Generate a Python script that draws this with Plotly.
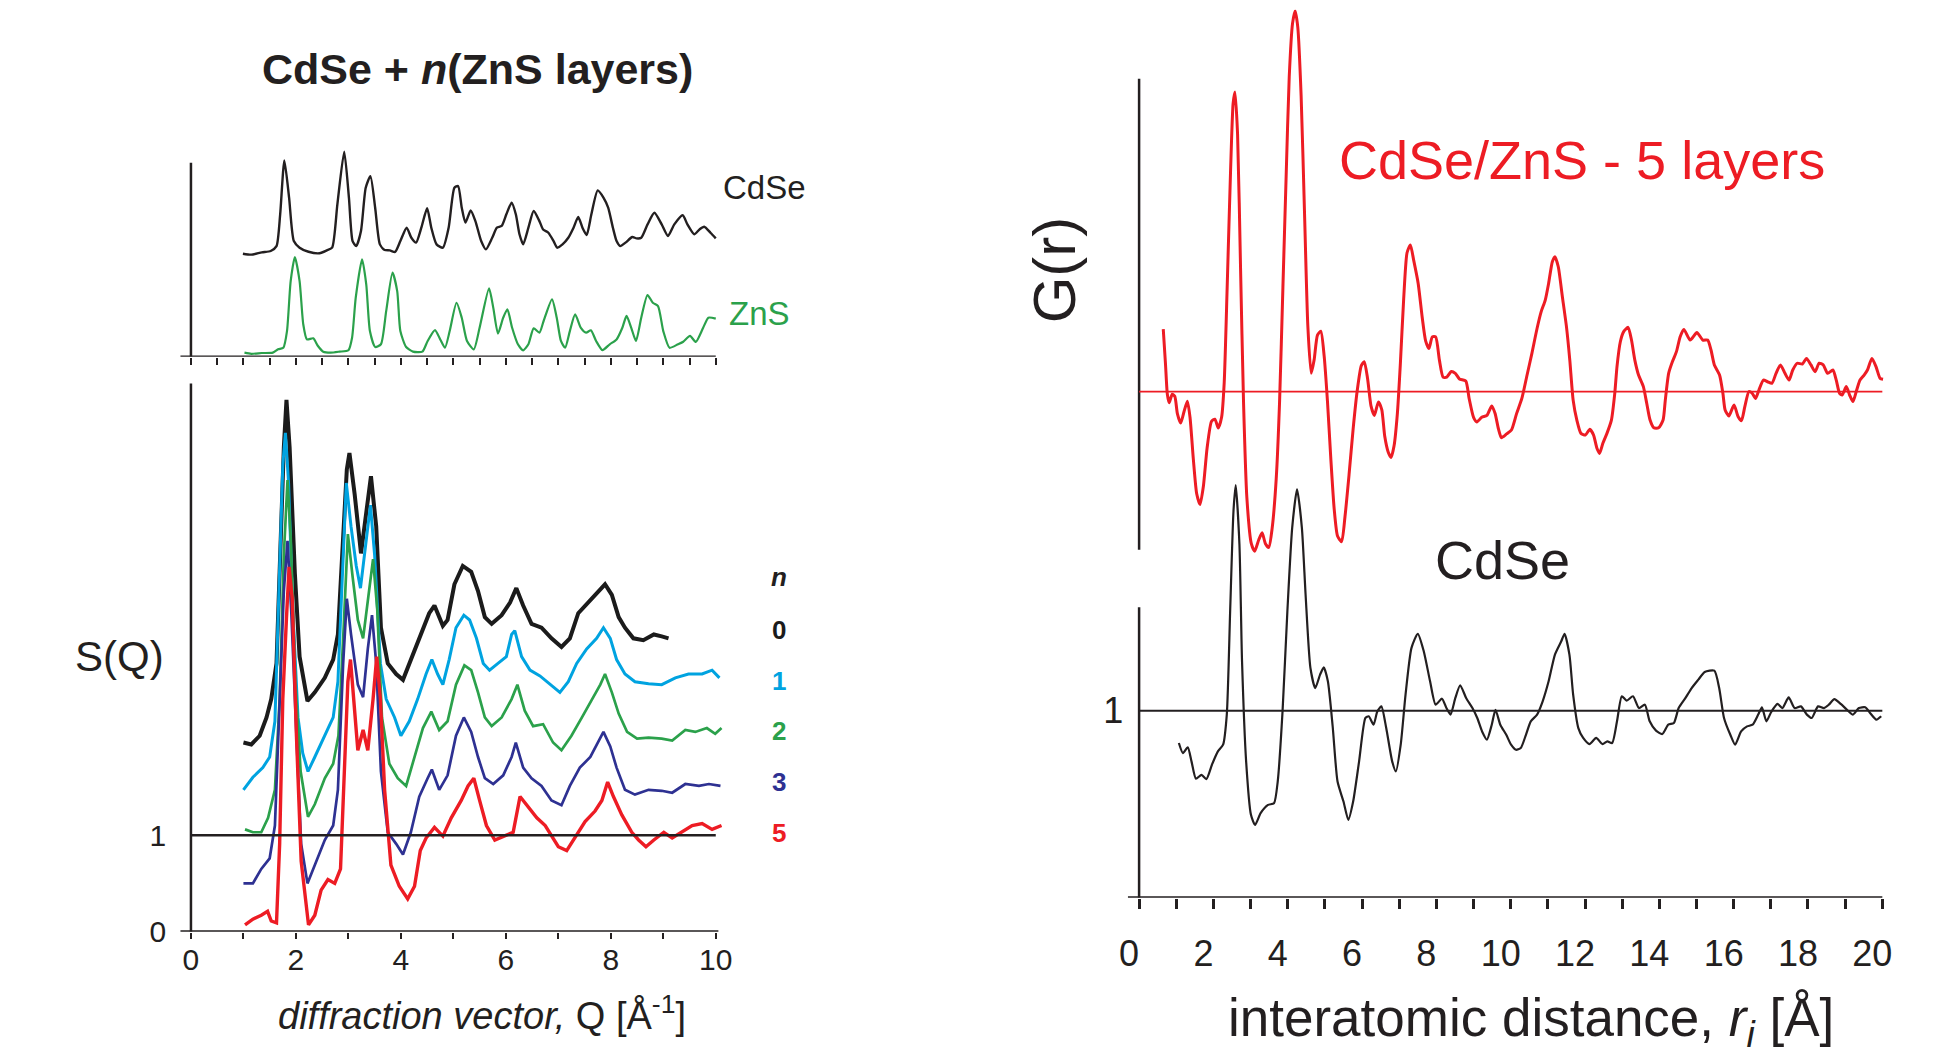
import plotly.graph_objects as go

# ---------------- data ----------------
# upper-left panel: reference patterns (arbitrary intensity units)
CDSE_REF = [(0.99,0.531),(1.15,0.526),(1.35,0.538),(1.52,0.545),(1.63,0.570),(1.70,0.734),(1.78,1.012),(1.87,0.820),
            (1.96,0.596),(2.07,0.562),(2.24,0.541),(2.45,0.533),(2.59,0.548),(2.69,0.562),(2.79,0.785),(2.92,1.057),
            (3.01,0.820),(3.08,0.596),(3.15,0.570),(3.24,0.648),(3.33,0.871),(3.42,0.931),(3.51,0.768),(3.60,0.579),
            (3.69,0.550),(3.79,0.548),(3.89,0.540),(3.99,0.596),(4.11,0.665),(4.20,0.613),(4.29,0.588),(4.39,0.665),
            (4.50,0.765),(4.58,0.665),(4.68,0.579),(4.80,0.562),(4.91,0.665),(5.02,0.871),(5.09,0.880),(5.16,0.768),
            (5.23,0.691),(5.33,0.754),(5.42,0.699),(5.53,0.596),(5.62,0.553),(5.74,0.613),(5.83,0.665),(5.92,0.674),
            (6.01,0.734),(6.11,0.794),(6.19,0.734),(6.26,0.631),(6.33,0.579),(6.43,0.665),(6.53,0.751),(6.64,0.699),
            (6.71,0.656),(6.81,0.639),(6.91,0.596),(6.98,0.562),(7.08,0.579),(7.19,0.613),(7.29,0.665),(7.38,0.720),
            (7.46,0.665),(7.54,0.627),(7.63,0.734),(7.75,0.857),(7.86,0.820),(7.95,0.768),(8.04,0.665),(8.11,0.596),
            (8.18,0.570),(8.28,0.588),(8.41,0.617),(8.49,0.610),(8.58,0.613),(8.70,0.682),(8.83,0.742),(8.97,0.682),
            (9.09,0.622),(9.21,0.682),(9.37,0.729),(9.46,0.682),(9.59,0.631),(9.69,0.656),(9.78,0.670),(9.90,0.639),
            (10.00,0.610)]
ZNS_REF = [(1.02,0.021),(1.15,0.015),(1.35,0.019),(1.56,0.021),(1.66,0.038),(1.76,0.046),(1.83,0.132),(1.90,0.390),
           (1.98,0.514),(2.07,0.390),(2.14,0.167),(2.21,0.089),(2.33,0.095),(2.42,0.055),(2.52,0.026),(2.66,0.021),
           (2.83,0.026),(3.00,0.033),(3.07,0.098),(3.14,0.304),(3.26,0.502),(3.34,0.373),(3.41,0.132),(3.51,0.050),
           (3.62,0.064),(3.72,0.235),(3.84,0.433),(3.93,0.338),(3.99,0.132),(4.10,0.050),(4.23,0.026),(4.41,0.026),
           (4.51,0.081),(4.65,0.137),(4.75,0.089),(4.84,0.046),(4.93,0.132),(5.06,0.278),(5.16,0.201),(5.26,0.081),
           (5.39,0.038),(5.50,0.149),(5.68,0.352),(5.76,0.253),(5.85,0.119),(5.95,0.201),(6.03,0.244),(6.12,0.149),
           (6.23,0.064),(6.33,0.033),(6.43,0.064),(6.53,0.146),(6.64,0.124),(6.72,0.184),(6.88,0.296),(6.97,0.201),
           (7.05,0.081),(7.13,0.046),(7.22,0.132),(7.32,0.218),(7.43,0.149),(7.53,0.124),(7.62,0.136),(7.72,0.081),
           (7.84,0.034),(7.98,0.064),(8.11,0.089),(8.22,0.149),(8.30,0.210),(8.39,0.149),(8.48,0.081),(8.58,0.201),
           (8.70,0.318),(8.80,0.278),(8.90,0.261),(9.00,0.132),(9.12,0.046),(9.28,0.064),(9.38,0.077),(9.51,0.107),
           (9.62,0.076),(9.76,0.149),(9.86,0.201),(10.00,0.196)]

# lower-left panel: S(Q) of CdSe + n ZnS layers (curves shifted as drawn)
SQ_N0 = [(1.00,1.96),(1.15,1.94),(1.31,2.03),(1.44,2.22),(1.53,2.41),(1.63,2.78),(1.70,3.90),(1.77,5.02),(1.82,5.51),
         (1.88,5.02),(1.98,3.71),(2.07,2.85),(2.22,2.39),(2.36,2.48),(2.55,2.63),(2.71,2.82),(2.80,3.08),(2.90,4.09),
         (2.97,4.79),(3.02,4.96),(3.12,4.53),(3.24,3.92),(3.34,4.35),(3.43,4.72),(3.53,4.20),(3.62,3.15),(3.75,2.78),
         (3.91,2.67),(4.04,2.61),(4.19,2.82),(4.39,3.08),(4.54,3.30),(4.64,3.38),(4.80,3.17),(4.89,3.23),(5.02,3.60),
         (5.18,3.79),(5.34,3.73),(5.47,3.53),(5.60,3.26),(5.73,3.19),(5.92,3.28),(6.08,3.41),(6.20,3.56),(6.33,3.38),
         (6.49,3.19),(6.68,3.15),(6.87,3.04),(7.06,2.95),(7.22,3.04),(7.38,3.30),(7.57,3.41),(7.76,3.53),(7.89,3.60),
         (8.02,3.49),(8.15,3.26),(8.27,3.15),(8.43,3.04),(8.62,3.02),(8.82,3.08),(8.97,3.06),(9.10,3.04)]
SQ_N1 = [(1.00,1.47),(1.18,1.60),(1.37,1.70),(1.50,1.81),(1.60,2.18),(1.68,3.53),(1.75,4.83),(1.80,5.17),(1.86,4.65),
         (1.94,3.34),(2.04,2.22),(2.13,1.85),(2.23,1.66),(2.36,1.81),(2.55,2.03),(2.71,2.22),(2.80,2.59),(2.90,3.90),
         (2.96,4.65),(3.05,4.20),(3.15,3.79),(3.23,3.56),(3.34,4.05),(3.42,4.42),(3.50,3.90),(3.61,2.78),(3.72,2.41),
         (3.88,2.22),(4.00,2.03),(4.16,2.18),(4.32,2.41),(4.48,2.67),(4.59,2.82),(4.70,2.67),(4.80,2.56),(4.92,2.82),
         (5.05,3.15),(5.20,3.28),(5.31,3.23),(5.44,3.04),(5.57,2.78),(5.69,2.71),(5.85,2.78),(6.01,2.85),(6.11,3.08),
         (6.17,3.12),(6.30,2.85),(6.46,2.71),(6.65,2.65),(6.84,2.56),(7.03,2.48),(7.19,2.59),(7.35,2.78),(7.54,2.93),
         (7.73,3.04),(7.86,3.15),(7.99,3.04),(8.11,2.82),(8.27,2.67),(8.46,2.59),(8.72,2.57),(8.97,2.56),(9.23,2.63),
         (9.48,2.67),(9.74,2.67),(9.93,2.71),(10.07,2.63)]
SQ_N2 = [(1.03,1.06),(1.18,1.03),(1.34,1.03),(1.47,1.18),(1.60,1.47),(1.69,2.41),(1.77,3.90),(1.84,4.68),(1.90,4.09),
         (1.99,2.59),(2.09,1.66),(2.23,1.19),(2.36,1.32),(2.55,1.59),(2.71,1.74),(2.81,2.03),(2.91,3.15),(2.99,4.12),
         (3.08,3.68),(3.18,3.23),(3.28,3.04),(3.37,3.45),(3.47,3.86),(3.55,3.34),(3.64,2.22),(3.78,1.74),(3.94,1.59),
         (4.10,1.51),(4.26,1.81),(4.42,2.11),(4.58,2.28),(4.73,2.09),(4.89,2.18),(5.05,2.56),(5.21,2.76),(5.34,2.71),
         (5.47,2.48),(5.60,2.22),(5.73,2.13),(5.92,2.22),(6.11,2.41),(6.22,2.56),(6.36,2.29),(6.52,2.13),(6.71,2.15),
         (6.90,1.96),(7.06,1.88),(7.25,2.03),(7.45,2.22),(7.64,2.41),(7.80,2.56),(7.89,2.67),(8.02,2.48),(8.15,2.26),
         (8.31,2.07),(8.50,2.00),(8.72,2.01),(8.97,2.00),(9.17,1.98),(9.42,2.09),(9.61,2.07),(9.83,2.11),(9.99,2.05),
         (10.11,2.11)]
SQ_N3 = [(1.00,0.50),(1.18,0.50),(1.34,0.65),(1.50,0.76),(1.60,1.10),(1.69,2.41),(1.77,3.53),(1.84,4.05),(1.91,3.34),
         (2.01,2.03),(2.10,0.91),(2.22,0.50),(2.36,0.69),(2.55,0.95),(2.71,1.10),(2.80,1.47),(2.90,2.78),(2.97,3.45),
         (3.05,3.08),(3.18,2.56),(3.28,2.43),(3.37,2.93),(3.45,3.28),(3.53,2.78),(3.62,1.66),(3.75,1.03),(3.91,0.91),
         (4.04,0.80),(4.19,1.03),(4.35,1.40),(4.51,1.59),(4.59,1.68),(4.73,1.47),(4.89,1.62),(5.05,2.03),(5.20,2.22),
         (5.34,2.07),(5.47,1.81),(5.60,1.59),(5.76,1.53),(5.95,1.62),(6.11,1.81),(6.19,1.96),(6.33,1.70),(6.49,1.59),
         (6.68,1.51),(6.87,1.36),(7.06,1.31),(7.22,1.51),(7.41,1.70),(7.61,1.81),(7.76,1.96),(7.86,2.07),(7.99,1.92),
         (8.11,1.70),(8.27,1.47),(8.46,1.42),(8.72,1.47),(8.97,1.46),(9.17,1.44),(9.42,1.53),(9.68,1.51),(9.87,1.53),
         (10.09,1.51)]
SQ_N5 = [(1.03,0.07),(1.18,0.13),(1.34,0.17),(1.46,0.21),(1.53,0.11),(1.63,0.09),(1.69,0.91),(1.75,2.41),(1.82,3.25),
         (1.87,3.78),(1.93,3.45),(2.01,2.03),(2.10,0.73),(2.24,0.07),(2.36,0.17),(2.48,0.43),(2.61,0.54),(2.74,0.50),
         (2.85,0.65),(2.93,1.66),(2.99,2.59),(3.04,2.82),(3.10,2.41),(3.18,1.88),(3.28,2.09),(3.37,1.88),(3.47,2.41),
         (3.54,2.85),(3.61,2.41),(3.69,1.47),(3.81,0.69),(3.97,0.47),(4.13,0.34),(4.26,0.47),(4.37,0.84),(4.48,0.97),
         (4.64,1.08),(4.80,0.99),(4.96,1.18),(5.15,1.36),(5.28,1.51),(5.39,1.59),(5.50,1.36),(5.63,1.10),(5.79,0.95),
         (5.98,0.99),(6.14,1.03),(6.27,1.40),(6.43,1.29),(6.59,1.18),(6.75,1.10),(6.87,0.99),(7.00,0.88),(7.16,0.84),
         (7.32,0.97),(7.51,1.14),(7.70,1.25),(7.83,1.36),(7.94,1.55),(8.05,1.40),(8.21,1.21),(8.40,1.03),(8.53,0.95),
         (8.67,0.88),(8.82,0.95),(9.01,1.03),(9.17,0.97),(9.36,1.03),(9.55,1.10),(9.74,1.12),(9.93,1.06),(10.11,1.10)]
SQ_SERIES = [("0", SQ_N0, "#1b1b1b", 4.0), ("1", SQ_N1, "#00a3e0", 3.0), ("2", SQ_N2, "#2ba14b", 2.7),
             ("3", SQ_N3, "#2e3192", 2.7), ("5", SQ_N5, "#ed1c24", 3.4)]

# right panel: G(r)
GR_CDSE = [(1.07,0.827),(1.18,0.773),(1.31,0.804),(1.41,0.729),(1.53,0.636),(1.68,0.657),(1.81,0.634),(1.96,0.711),
           (2.12,0.782),(2.26,0.818),(2.36,0.979),(2.45,1.532),(2.54,2.068),(2.60,2.207),(2.70,1.889),(2.77,1.264),
           (2.88,0.729),(3.01,0.443),(3.12,0.389),(3.27,0.452),(3.47,0.496),(3.63,0.505),(3.73,0.621),(3.86,0.996),
           (3.99,1.532),(4.12,1.979),(4.25,2.184),(4.38,1.979),(4.48,1.621),(4.61,1.229),(4.74,1.121),(4.87,1.193),
           (4.97,1.232),(5.08,1.157),(5.21,0.914),(5.34,0.621),(5.50,0.514),(5.63,0.416),(5.76,0.514),(5.92,0.729),
           (6.09,0.961),(6.18,0.970),(6.31,0.925),(6.41,0.996),(6.52,1.023),(6.65,0.907),(6.81,0.729),(6.91,0.675),
           (7.04,0.818),(7.17,1.086),(7.33,1.336),(7.50,1.411),(7.66,1.318),(7.83,1.157),(7.98,1.032),(8.15,1.064),
           (8.27,1.014),(8.38,0.979),(8.51,1.068),(8.64,1.136),(8.80,1.068),(8.97,1.014),(9.10,0.961),(9.23,0.889),
           (9.36,0.845),(9.49,0.925),(9.59,1.005),(9.72,0.925),(9.88,0.871),(10.01,0.818),(10.14,0.791),(10.27,0.800),
           (10.41,0.871),(10.54,0.943),(10.71,0.979),(10.86,1.050),(11.02,1.157),(11.19,1.300),(11.36,1.371),
           (11.45,1.411),(11.58,1.300),(11.68,1.086),(11.82,0.907),(11.95,0.854),(12.12,0.821),(12.30,0.854),
           (12.47,0.821),(12.60,0.836),(12.73,0.827),(12.86,0.943),(12.99,1.077),(13.12,1.054),(13.29,1.077),
           (13.45,1.014),(13.61,1.032),(13.74,0.943),(13.91,0.893),(14.08,0.875),(14.24,0.925),(14.39,0.934),
           (14.52,1.014),(14.69,1.064),(14.87,1.121),(15.05,1.166),(15.22,1.207),(15.48,1.214),(15.61,1.121),
           (15.74,0.961),(15.91,0.871),(16.04,0.818),(16.20,0.889),(16.36,0.916),(16.51,0.925),(16.66,0.979),
           (16.76,1.018),(16.88,0.943),(17.01,0.993),(17.18,1.036),(17.31,1.014),(17.48,1.071),(17.64,1.014),
           (17.81,1.023),(17.97,0.979),(18.10,0.961),(18.27,1.023),(18.43,1.014),(18.56,1.032),(18.71,1.062),
           (18.88,1.036),(19.05,1.005),(19.21,0.979),(19.37,1.014),(19.54,1.018),(19.67,0.988),(19.84,0.952),
           (19.97,0.970)]
GR_SHELL5 = [(0.65,1.334),(0.71,1.149),(0.76,0.986),(0.81,0.941),(0.89,0.986),(0.96,0.975),(1.03,0.883),(1.12,0.832),
             (1.21,0.894),(1.30,0.949),(1.37,0.863),(1.46,0.638),(1.55,0.454),(1.64,0.396),(1.73,0.494),(1.83,0.699),
             (1.95,0.842),(2.04,0.853),(2.13,0.806),(2.22,0.863),(2.29,1.047),(2.37,1.559),(2.46,2.173),(2.53,2.541),
             (2.58,2.603),(2.65,2.377),(2.73,1.661),(2.81,0.945),(2.90,0.433),(3.02,0.187),(3.11,0.147),(3.22,0.208),
             (3.31,0.245),(3.40,0.187),(3.49,0.167),(3.58,0.269),(3.69,0.535),(3.78,0.945),(3.87,1.559),(3.96,2.173),
             (4.04,2.684),(4.13,2.971),(4.20,3.036),(4.27,2.950),(4.36,2.582),(4.45,1.968),(4.54,1.354),(4.63,1.098),
             (4.71,1.170),(4.80,1.303),(4.89,1.323),(4.98,1.190),(5.07,0.945),(5.16,0.638),(5.25,0.372),(5.34,0.228),
             (5.45,0.198),(5.54,0.331),(5.65,0.556),(5.76,0.801),(5.87,1.006),(5.98,1.139),(6.06,1.160),(6.15,1.068),
             (6.24,0.924),(6.33,0.873),(6.44,0.945),(6.53,0.904),(6.61,0.761),(6.70,0.679),(6.78,0.648),(6.86,0.709),
             (6.95,0.883),(7.03,1.149),(7.12,1.497),(7.21,1.743),(7.30,1.784),(7.39,1.702),(7.51,1.579),(7.62,1.395),
             (7.71,1.272),(7.80,1.231),(7.89,1.293),(7.98,1.293),(8.08,1.170),(8.18,1.078),(8.28,1.078),(8.40,1.108),
             (8.51,1.098),(8.62,1.068),(8.79,1.057),(8.88,0.965),(9.00,0.863),(9.09,0.838),(9.22,0.863),(9.36,0.873),
             (9.49,0.924),(9.58,0.883),(9.67,0.801),(9.75,0.754),(9.89,0.774),(10.02,0.795),(10.16,0.884),
             (10.30,0.964),(10.43,1.080),(10.57,1.205),(10.71,1.339),(10.82,1.428),(10.93,1.490),(11.02,1.579),
             (11.12,1.695),(11.19,1.722),(11.28,1.668),(11.39,1.508),(11.50,1.348),(11.59,1.169),(11.68,0.955),
             (11.78,0.848),(11.89,0.777),(12.01,0.768),(12.13,0.799),(12.23,0.768),(12.32,0.697),(12.39,0.670),
             (12.48,0.724),(12.59,0.777),(12.71,0.848),(12.80,0.991),(12.86,1.134),(12.95,1.267),(13.04,1.321),
             (13.16,1.344),(13.25,1.276),(13.34,1.169),(13.44,1.089),(13.57,1.027),(13.66,0.938),(13.75,0.848),
             (13.85,0.807),(13.98,0.807),(14.10,0.848),(14.16,0.955),(14.25,1.098),(14.35,1.160),(14.46,1.214),
             (14.56,1.294),(14.66,1.333),(14.83,1.276),(15.01,1.316),(15.17,1.276),(15.30,1.276),(15.39,1.223),
             (15.48,1.143),(15.62,1.089),(15.71,0.991),(15.77,0.902),(15.87,0.870),(16.01,0.929),(16.12,0.866),
             (16.21,0.845),(16.30,0.920),(16.41,1.000),(16.50,0.991),(16.59,0.964),(16.68,1.009),(16.80,1.062),
             (16.91,1.053),(17.03,1.045),(17.14,1.098),(17.26,1.143),(17.38,1.098),(17.49,1.062),(17.59,1.116),
             (17.71,1.152),(17.85,1.148),(17.96,1.178),(18.08,1.143),(18.19,1.107),(18.30,1.152),(18.41,1.143),
             (18.53,1.098),(18.67,1.116),(18.76,1.062),(18.85,0.991),(18.92,0.982),(19.03,1.027),(19.12,0.982),
             (19.21,0.947),(19.31,1.009),(19.40,1.062),(19.51,1.089),(19.60,1.116),(19.72,1.178),(19.83,1.134),
             (19.94,1.071),(20.02,1.066)]
SHELL_OFFSET = 1.706          # vertical shift of the 5-layer G(r) curve

Q_LABELED = [0, 2, 4, 6, 8, 10]
Q_MINOR_ODD = [1, 3, 5, 7, 9]
Q_HALF = [i * 0.5 for i in range(21)]
R_LABELED = list(range(0, 21, 2))
R_MINOR_ODD = list(range(1, 20, 2))

# ---------------- layout geometry ----------------
# measured: the page is shown with an 8 px offset and a slight squeeze (x 0.9973, y 0.985)
W, H = 1952, 1062
SX, SY, OX, OY = 0.9973, 0.985, 4.0, -0.6

def wx(px):            # target picture x -> figure pixel
    return (px - OX) / SX - 8

def wy(py):            # target picture y -> figure pixel
    return (py - OY) / SY - 8

def fx(px):
    return wx(px) / W

def fy(py):
    return 1 - wy(py) / H

# left panels: Q=0 at x=190 px, 52.5 px per unit
QX_RANGE = [-0.3, 10.3]
L_DOM = [fx(190 + QX_RANGE[0] * 52.5), fx(190 + QX_RANGE[1] * 52.5)]
# lower-left: S=0 at y=931 px, 96.5 px per unit
S_RANGE = [0, 5.75]
LOW_DOM = [fy(931), fy(931 - S_RANGE[1] * 96.5)]
# upper-left: baseline at y=356 px, 194 px per unit
V_RANGE = [0, 1.1]
UP_DOM = [fy(356), fy(356 - V_RANGE[1] * 194)]
# right: r=0 at x=1138.5 px, 37.175 px per unit ; G=0 at y=897 px, 187 px per unit
RX_RANGE = [-0.4, 20.4]
R_DOM = [fx(1138.5 + RX_RANGE[0] * 37.175), fx(1138.5 + RX_RANGE[1] * 37.175)]
G_RANGE = [0, 4.75]
G_DOM = [fy(897), min(1.0, fy(897 - G_RANGE[1] * 187))]

# ---------------- figure ----------------
BLACK = "#231f20"
RED = "#ed1c24"
GREEN = "#2ba14b"
FONT = "Liberation Sans, Arial, sans-serif"

fig = go.Figure()

def xy(pairs):
    return [p[0] for p in pairs], [p[1] for p in pairs]

qx, qy = xy(CDSE_REF)
fig.add_trace(go.Scatter(x=qx, y=qy, xaxis="x2", yaxis="y2", mode="lines",
                         line=dict(color=BLACK, width=2.4, shape="spline", smoothing=0.6)))
qx, qy = xy(ZNS_REF)
fig.add_trace(go.Scatter(x=qx, y=qy, xaxis="x2", yaxis="y2", mode="lines",
                         line=dict(color=GREEN, width=2.2, shape="spline", smoothing=0.6)))

for name, pairs, col, w in SQ_SERIES:
    qx, qy = xy(pairs)
    fig.add_trace(go.Scatter(x=qx, y=qy, xaxis="x", yaxis="y", mode="lines",
                             line=dict(color=col, width=w)))

rx, ry = xy(GR_CDSE)
fig.add_trace(go.Scatter(x=rx, y=ry, xaxis="x3", yaxis="y3", mode="lines",
                         line=dict(color=BLACK, width=2.2, shape="spline", smoothing=0.6)))
rx, ry = xy(GR_SHELL5)
fig.add_trace(go.Scatter(x=rx, y=[v + SHELL_OFFSET for v in ry], xaxis="x3", yaxis="y3", mode="lines",
                         line=dict(color=RED, width=3.0, shape="spline", smoothing=0.6)))

# axis lines and reference lines
def seg(xref, yref, x0, y0, x1, y1, color=BLACK, width=2.5):
    fig.add_shape(type="line", xref=xref, yref=yref, x0=x0, y0=y0, x1=x1, y1=y1,
                  line=dict(color=color, width=width))

seg("x", "y", -0.2, 0, 10.05, 0, width=3)
seg("x", "y", 0, 0, 0, 5.68)
seg("x", "y", 0, 1, 10.0, 1)
seg("x2", "y2", -0.2, 0, 10.0, 0)
seg("x2", "y2", 0, 0, 0, 1.0)
seg("x3", "y3", -0.3, 0, 20.0, 0, width=3)
seg("x3", "y3", 0, 0, 0, 1.553)
seg("x3", "y3", 0, 1.861, 0, 4.380)
seg("x3", "y3", 0, 1, 20.0, 1, width=2)
seg("x3", "y3", 0, 1 + SHELL_OFFSET, 20.0, 1 + SHELL_OFFSET, color=RED, width=1.6)

common = dict(showgrid=False, zeroline=False, showline=False)
fig.update_layout(
    width=W, height=H, margin=dict(l=0, r=0, t=0, b=0),
    paper_bgcolor="white", plot_bgcolor="rgba(0,0,0,0)", showlegend=False,
    font=dict(family=FONT, color=BLACK),
    xaxis=dict(domain=L_DOM, range=QX_RANGE, anchor="y", tickmode="array", tickvals=Q_LABELED,
               ticktext=[str(v) for v in Q_LABELED],
               ticks="outside", ticklen=6, tickwidth=2, tickcolor=BLACK, ticklabelstandoff=-5,
               minor=dict(tickmode="array", tickvals=Q_MINOR_ODD, ticks="outside", ticklen=6, tickwidth=2,
                          tickcolor=BLACK, showgrid=False),
               tickfont=dict(size=30, color=BLACK), **common),
    yaxis=dict(domain=LOW_DOM, range=S_RANGE, anchor="x", tickmode="array", tickvals=[0, 1], ticktext=["0", "1"],
               ticks="", ticklabelstandoff=8, tickfont=dict(size=30, color=BLACK), **common),
    xaxis2=dict(domain=L_DOM, range=QX_RANGE, anchor="y2", tickmode="array", tickvals=Q_HALF,
                showticklabels=False, ticks="outside", ticklen=7, tickwidth=2, tickcolor=BLACK, **common),
    yaxis2=dict(domain=UP_DOM, range=V_RANGE, anchor="x2", showticklabels=False, ticks="", **common),
    xaxis3=dict(domain=R_DOM, range=RX_RANGE, anchor="y3", tickmode="array", tickvals=R_LABELED,
                ticktext=[str(v) for v in R_LABELED],
                ticks="outside", ticklen=10, tickwidth=2.5, tickcolor=BLACK, ticklabelstandoff=14,
                ticklabelshift=-10,
                minor=dict(tickmode="array", tickvals=R_MINOR_ODD, ticks="outside", ticklen=10, tickwidth=2.5,
                           tickcolor=BLACK, showgrid=False),
                tickfont=dict(size=36, color=BLACK), **common),
    yaxis3=dict(domain=G_DOM, range=G_RANGE, anchor="x3", tickmode="array", tickvals=[1], ticktext=["1"],
                ticks="", tickfont=dict(size=36, color=BLACK), **common),
)

def label(x, y, text, size, color=BLACK, angle=0):
    fig.add_annotation(x=fx(x), y=fy(y), xref="paper", yref="paper", text=text, showarrow=False,
                       xanchor="center", yanchor="middle", textangle=angle, borderpad=0,
                       font=dict(size=size, color=color, family=FONT))

label(477, 68, "<b>CdSe + <i>n</i>(ZnS layers)</b>", 43)
label(764, 187, "CdSe", 33)
label(759, 313, "ZnS", 33, GREEN)
label(119, 656, "S(Q)", 42)
label(778, 576, "<b><i>n</i></b>", 26)
for (name, pairs, col, w), ypos in zip(SQ_SERIES, [629, 680, 730, 781, 832]):
    label(778, ypos, "<b>" + name + "</b>", 26, col)
label(481, 1012, "<i>diffraction vector,</i> Q [Å<sup>-1</sup>]", 38)
label(1054, 269, "G(r)", 60, angle=-90)
label(1582, 159, "CdSe/ZnS - 5 layers", 54, RED)
label(1502, 559, "CdSe", 54)
label(1531, 1021, "interatomic distance, <i>r<sub>i</sub></i> [Å]", 53)

fig.write_html("out.html")
